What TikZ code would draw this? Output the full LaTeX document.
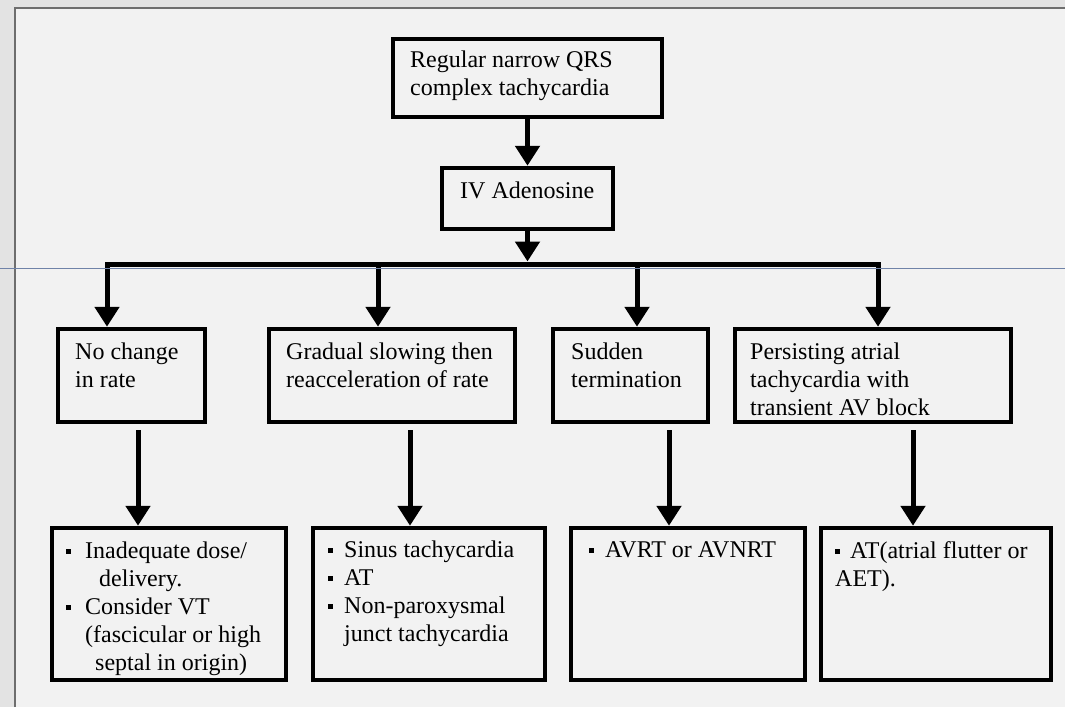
\documentclass[tikz,border=0pt]{standalone}
\usepackage{fontspec}
\setmainfont{Liberation Serif}
\usetikzlibrary{arrows.meta}
\definecolor{pagebg}{HTML}{F2F2F2}
\definecolor{outbg}{HTML}{E3E3E3}
\definecolor{framegray}{HTML}{6E6E6E}
\definecolor{rulerblue}{HTML}{7083A8}
\tikzstyle{chart}=[x=1pt,y=-1pt,font=\fontsize{24}{28}\selectfont]
\tikzstyle{box}=[rectangle, draw=black, line width=4.5pt, fill=pagebg, inner sep=0pt]
\tikzstyle{txt}=[anchor=north west, inner sep=0pt, align=left]
\tikzstyle{edge}=[line width=5pt, -{Triangle[width=24pt,length=20pt]}]
\tikzstyle{pipe}=[-, line width=5pt, line cap=rect]
\newcommand{\bul}[1][16pt]{\makebox[#1][l]{\rule[5pt]{4.5pt}{4.5pt}}}
\begin{document}
\begin{tikzpicture}[chart]
				\useasboundingbox (0,0) rectangle (1065,707);
				
				%The page
				\fill[outbg] (0,0) rectangle (1065,707);
				\fill[pagebg] (15,8) rectangle (1065,707);
				\draw[framegray, line width=2.5pt] (15,707) -- (15,8) -- (1065,8);
				
				%The start
				\draw (527.5,78) node[box, minimum width=269pt, minimum height=78pt] (start) {};
				\draw (410,48) node[txt] (start-t) {\strut Regular narrow QRS\\complex tachycardia};
				\draw (527.5,198.5) node[box, minimum width=171pt, minimum height=61pt] (adeno) {};
				\draw (460,179) node[txt] (adeno-t) {\strut IV Adenosine};
				
				\draw[edge] (start) -- (adeno);
				
				%The branch bar
				\coordinate (bar-l) at (107,264);
				\coordinate (bar-2) at (378,264);
				\coordinate (bar-3) at (637,264);
				\coordinate (bar-r) at (878,264);
				\draw[pipe] (bar-l) -- (bar-r);
				\draw[edge, shorten >=2.5pt] (adeno) -- (adeno |- bar-l);
				
				%The responses
				\draw (131.5,375.5) node[box, minimum width=147pt, minimum height=93pt] (r1) {};
				\draw (75,340) node[txt] (r1-t) {\strut No change\\in rate};
				\draw (392,375.5) node[box, minimum width=246pt, minimum height=93pt] (r2) {};
				\draw (286,340) node[txt] (r2-t) {\strut Gradual slowing then\\reacceleration of rate};
				\draw (630.5,375.5) node[box, minimum width=155pt, minimum height=93pt] (r3) {};
				\draw (571,340) node[txt] (r3-t) {\strut Sudden\\termination};
				\draw (873,375.5) node[box, minimum width=276pt, minimum height=93pt] (r4) {};
				\draw (750,340) node[txt] (r4-t) {\strut Persisting atrial\\tachycardia with\\transient AV block};
				
				\draw[edge] (bar-l) -- (bar-l |- r1.north);
				\draw[edge] (bar-2) -- (bar-2 |- r2.north);
				\draw[edge] (bar-3) -- (bar-3 |- r3.north);
				\draw[edge] (bar-r) -- (bar-r |- r4.north);
				
				%The diagnoses
				\draw (169,604) node[box, minimum width=234pt, minimum height=152pt] (d1) {};
				\draw (66,539) node[txt] (d1-t) {\strut\bul[19pt]Inadequate dose/\\\hspace*{33pt}delivery.\\\bul[19pt]Consider VT\\\hspace*{19pt}(fascicular or high\\\hspace*{29pt}septal in origin)};
				\draw (429,604) node[box, minimum width=232pt, minimum height=152pt] (d2) {};
				\draw (328,538) node[txt] (d2-t) {\strut\bul Sinus tachycardia\\\bul AT\\\bul Non-paroxysmal\\\hspace*{16pt}junct tachycardia};
				\draw (688,604) node[box, minimum width=234pt, minimum height=152pt] (d3) {};
				\draw (589,538) node[txt] (d3-t) {\strut\bul AVRT or AVNRT};
				\draw (936,604) node[box, minimum width=230pt, minimum height=152pt] (d4) {};
				\draw (835,539) node[txt] (d4-t) {\strut\bul[15pt]AT(atrial flutter or\\AET).};
				
				\coordinate (low-1) at (138,0);
				\coordinate (low-2) at (410,0);
				\coordinate (low-3) at (669,0);
				\coordinate (low-4) at (913,0);
				\draw[edge, shorten <=6pt] (r1.south -| low-1) -- (d1.north -| low-1);
				\draw[edge, shorten <=6pt] (r2.south -| low-2) -- (d2.north -| low-2);
				\draw[edge, shorten <=6pt] (r3.south -| low-3) -- (d3.north -| low-3);
				\draw[edge, shorten <=6pt] (r4.south -| low-4) -- (d4.north -| low-4);
				
				%The stray guide line
				\draw[rulerblue, line width=1pt] (0,268) -- (1065,268);
			\end{tikzpicture}
\end{document}
